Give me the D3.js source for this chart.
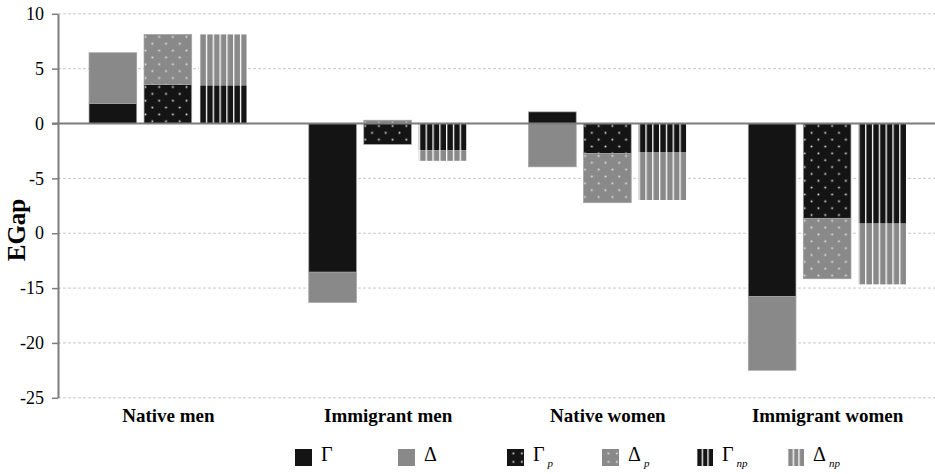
<!DOCTYPE html>
<html>
<head>
<meta charset="utf-8">
<script src="https://cdn.jsdelivr.net/npm/d3@7"></script>
<style>
  body { margin: 0; background: #fff; }
  svg { display: block; }
  svg text { font-family: "Liberation Serif", "Times New Roman", serif; }
</style>
</head>
<body>
<svg id="chart" width="935" height="474"></svg>
<script>
// Gap decomposition by group: total (Γ, Δ), p-component and np-component
const categories = ["Native men", "Immigrant men", "Native women", "Immigrant women"];
const gamma   = [1.82, -13.55,  1.06, -15.76];
const delta   = [4.63,  -2.76, -3.95,  -6.73];
const gammaP  = [3.55,  -1.90, -2.73,  -8.64];
const deltaP  = [4.57,   0.30, -4.49,  -5.51];
const gammaNP = [3.48,  -2.43, -2.64,  -9.12];
const deltaNP = [4.64,  -0.97, -4.33,  -5.54];
const yTicks  = [10, 5, 0, -5, -10, -15, -20, -25];
const barTypes = ["all", "p", "np"];
const legendBase = ["Γ", "Δ", "Γ", "Δ", "Γ", "Δ"];
const legendSub  = ["", "", "p", "p", "np", "np"];

const BLACK = "#141414", GRAY = "#898989", AXIS = "#7c7c7c";
const FONT = "Liberation Serif, Times New Roman, serif";

const svg = d3.select("#chart");
const defs = svg.append("defs");

const y = d3.scaleLinear().domain([-25, 10]).range([397.8, 13.8]);
const x0 = d3.scaleBand().domain(categories).range([58, 937]);
const x1 = d3.scaleBand().domain(barTypes).range([0, x0.bandwidth()])
  .paddingInner(0.133).paddingOuter(0.564);
const bw = x1.bandwidth();

// horizontal dashed gridlines
svg.append("g").selectAll("line").data(yTicks).join("line")
  .attr("x1", 58).attr("x2", 935)
  .attr("y1", d => y(d)).attr("y2", d => y(d))
  .attr("stroke", "#c8c8c8").attr("stroke-width", 1)
  .attr("stroke-dasharray", "3,2");

// stacked segments per bar type, positives above zero and negatives below
const seriesByType = {
  all: [gamma, delta],
  p:   [gammaP, deltaP],
  np:  [gammaNP, deltaNP]
};
const colors = [BLACK, GRAY];

function dotPattern(id, color, px, py) {
  const p = defs.append("pattern").attr("id", id)
    .attr("patternUnits", "userSpaceOnUse")
    .attr("x", px).attr("y", py).attr("width", 13.7).attr("height", 13.7);
  p.append("rect").attr("width", 13.7).attr("height", 13.7).attr("fill", color);
  p.append("rect").attr("x", 0.6).attr("y", 1.6).attr("width", 1.7).attr("height", 1.7).attr("fill", "#e6e6e6");
  p.append("rect").attr("x", 7.45).attr("y", 8.45).attr("width", 1.7).attr("height", 1.7).attr("fill", "#e6e6e6");
}
function stripePattern(id, color, px, period) {
  const p = defs.append("pattern").attr("id", id)
    .attr("patternUnits", "userSpaceOnUse")
    .attr("x", px).attr("y", 0).attr("width", period).attr("height", 10);
  p.append("rect").attr("width", period).attr("height", 10).attr("fill", color);
  p.append("rect").attr("x", 0).attr("width", 1.3).attr("height", 10).attr("fill", "#ffffff");
}

const barsG = svg.append("g");
barTypes.forEach(t => {
  const rows = categories.map((c, i) => ({ cat: c, g: seriesByType[t][0][i], d: seriesByType[t][1][i] }));
  const stacked = d3.stack().keys(["g", "d"]).offset(d3.stackOffsetDiverging)(rows);
  stacked.forEach((layer, k) => {
    layer.forEach((seg, i) => {
      const bx = x0(seg.data.cat) + x1(t);
      const top = y(Math.max(seg[0], seg[1]));
      const h = Math.abs(y(seg[0]) - y(seg[1]));
      if (h <= 0) return;
      let fill = colors[k];
      if (t === "p") {
        const id = `dots-${k}-${i}`;
        dotPattern(id, colors[k], bx, top);
        fill = `url(#${id})`;
      } else if (t === "np") {
        const id = `stripes-${k}-${i}`;
        stripePattern(id, colors[k], bx, bw / 7);
        fill = `url(#${id})`;
      }
      barsG.append("rect")
        .attr("x", bx).attr("y", top).attr("width", bw).attr("height", h)
        .attr("fill", fill)
        .attr("stroke", t === "np" ? "none" : "#a3a3a3")
        .attr("stroke-width", 0.7);
    });
  });
});

// y axis
const yAxis = svg.append("g").attr("transform", "translate(58,0)")
  .call(d3.axisLeft(y).tickValues(yTicks).tickFormat(d => String(d))
    .tickSize(6).tickSizeOuter(0).tickPadding(8));
yAxis.attr("font-family", FONT).attr("font-size", 18);
yAxis.select(".domain").attr("stroke", AXIS).attr("stroke-width", 2);
yAxis.selectAll(".tick line").attr("stroke", AXIS).attr("stroke-width", 1.5);
yAxis.selectAll(".tick text").attr("fill", "#000")
  .attr("font-family", FONT).style("font-size", "18px");

// zero baseline
svg.append("line")
  .attr("x1", 52).attr("x2", 935).attr("y1", y(0)).attr("y2", y(0))
  .attr("stroke", AXIS).attr("stroke-width", 2);

// category labels
svg.append("g").selectAll("text").data(categories).join("text")
  .attr("x", d => x0(d) + x0.bandwidth() / 2 + 0.5)
  .attr("y", 422)
  .attr("text-anchor", "middle")
  .attr("font-family", FONT)
  .style("font-size", "19px").style("font-weight", "bold")
  .text(d => d);

// y axis title on a white box
const titleG = svg.append("g").attr("transform", "translate(25,230) rotate(-90)");
titleG.append("rect").attr("x", -36).attr("y", -22).attr("width", 72).attr("height", 31).attr("fill", "#fff");
titleG.append("text").attr("text-anchor", "middle")
  .attr("font-family", FONT)
  .style("font-size", "25px").style("font-weight", "bold")
  .text("EGap");

// legend
const legendX = [295, 398, 507, 602, 696, 787];
const legendTop = 449, sw = 17;
const legend = svg.append("g");
legendBase.forEach((b, i) => {
  const color = i % 2 === 0 ? BLACK : GRAY;
  let fill = color;
  if (i === 2 || i === 3) {
    const id = `leg-dots-${i}`;
    const p = defs.append("pattern").attr("id", id).attr("patternUnits", "userSpaceOnUse")
      .attr("x", legendX[i]).attr("y", legendTop).attr("width", 8.5).attr("height", 8.5);
    p.append("rect").attr("width", 8.5).attr("height", 8.5).attr("fill", color);
    p.append("rect").attr("x", 5.5).attr("y", 3.5).attr("width", 1.7).attr("height", 1.7).attr("fill", "#e6e6e6");
    fill = `url(#${id})`;
  } else if (i === 4 || i === 5) {
    const id = `leg-stripes-${i}`;
    stripePattern(id, color, legendX[i], sw / 3);
    fill = `url(#${id})`;
  }
  legend.append("rect").attr("x", legendX[i]).attr("y", legendTop)
    .attr("width", sw).attr("height", sw).attr("fill", fill);
  const t = legend.append("text").attr("x", legendX[i] + 26).attr("y", 461)
    .attr("font-family", FONT).style("font-size", "20px");
  t.append("tspan").text(b);
  if (legendSub[i]) {
    t.append("tspan").attr("dx", 3).attr("dy", 6)
      .style("font-size", "11px").style("font-style", "italic")
      .text(legendSub[i]);
  }
});
</script>
</body>
</html>
